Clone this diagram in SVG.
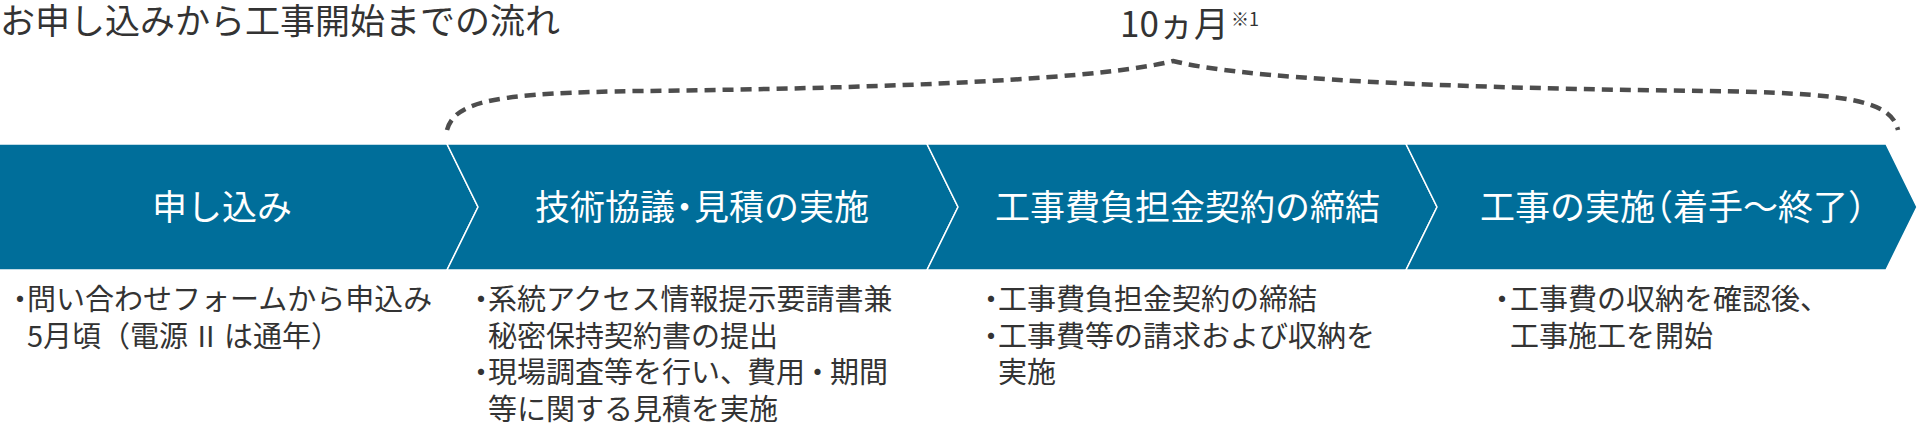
<svg xmlns="http://www.w3.org/2000/svg" width="1920" height="435" viewBox="0 0 1920 435">
<style>
text{font-family:"Noto Sans CJK JP","Noto Sans",sans-serif;}
.title{font-size:35px;fill:#333333;}
.lbl{font-size:35px;fill:#ffffff;}
.desc{font-size:29px;fill:#333333;}
.chev{fill:#006e9a;stroke:#ffffff;stroke-width:1.5;}
.brace{fill:none;stroke:#4d4d4d;stroke-width:4.5;stroke-dasharray:11 7;}
</style>
<rect x="0" y="0" width="1920" height="435" fill="#ffffff"/>
<text class="title" x="0" y="34">お申し込みから工事開始までの流れ</text>
<g id="period">
<text x="1120" y="37" style="font-size:35px;fill:#333333;">10ヵ月</text>
<text x="1231" y="26" style="font-size:18px;fill:#333333;">※1</text>
</g>
<g id="connectors">
<path class="brace" d="M447,130 C455,100 500,93 640,91 C820,89 1085,83 1173,61 C1261,83 1526,89 1706,91 C1846,93 1891,100 1898,130"/>
</g>
<g id="step1">
<polygon class="chev" points="-2,144 447,144 478,207 447,270 -2,270"/>
<text class="lbl" x="152" y="220">申し込み</text>
<text class="desc" y="310"><tspan x="5.5">・</tspan><tspan x="27">問い合わせフォームから申込み</tspan></text>
<text class="desc" x="27" y="347">5月頃（電源 <tspan dx="3">II</tspan> <tspan dx="3">は通年）</tspan></text>
</g>
<g id="step2">
<polygon class="chev" points="447,144 927,144 958,207 927,270 447,270 478,207"/>
<text class="lbl" x="535" y="220">技術協議<tspan dx="-8">・</tspan><tspan dx="-8">見積の実施</tspan></text>
<text class="desc" y="310"><tspan x="466.5">・</tspan><tspan x="488">系統アクセス情報提示要請書兼</tspan></text>
<text class="desc" x="488" y="347">秘密保持契約書の提出</text>
<text class="desc" y="383"><tspan x="466.5">・</tspan><tspan x="488">現場調査等を行い、<tspan dx="-2">費用</tspan><tspan dx="-2">・</tspan><tspan dx="-2">期間</tspan></tspan></text>
<text class="desc" x="488" y="420">等に関する見積を実施</text>
</g>
<g id="step3">
<polygon class="chev" points="927,144 1406,144 1437,207 1406,270 927,270 958,207"/>
<text class="lbl" x="995" y="220">工事費負担金契約の締結</text>
<text class="desc" y="310"><tspan x="976.5">・</tspan><tspan x="998">工事費負担金契約の締結</tspan></text>
<text class="desc" y="347"><tspan x="976.5">・</tspan><tspan x="998">工事費等の請求および収納を</tspan></text>
<text class="desc" x="998" y="383">実施</text>
</g>
<g id="step4">
<polygon class="chev" points="1406,144 1886,144 1917,207 1886,270 1406,270 1437,207"/>
<text class="lbl" x="1480" y="220">工事の実施<tspan dx="-17">（</tspan>着手〜終了）</text>
<text class="desc" y="310"><tspan x="1487.5">・</tspan><tspan x="1510">工事費の収納を確認後、</tspan></text>
<text class="desc" x="1510" y="347">工事施工を開始</text>
</g>
</svg>
